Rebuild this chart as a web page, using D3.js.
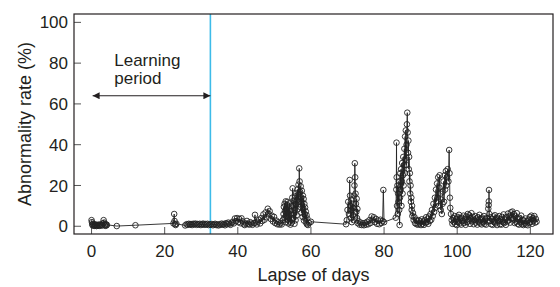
<!DOCTYPE html>
<html>
<head>
<meta charset="utf-8">
<script src="https://cdn.jsdelivr.net/npm/d3@7"></script>
<style>
  body { margin: 0; background: #fff; }
  text { font-family: "Liberation Sans", Arial, sans-serif; fill: #231f20; }
</style>
</head>
<body>
<div id="chart"></div>
<script>
// axis ticks
var xTicks = [0, 20, 40, 60, 80, 100, 120];
var yTicks = [0, 20, 40, 60, 80, 100];

// end of learning period (days)
var learningEnd = 32.5;

// [day, abnormality rate %]
var learningPts = [
  [0.0,3.0],[0.1,2.0],[0.2,1.0],[0.3,0.4],[0.45,1.2],[0.6,0.5],[0.75,0.2],[0.9,0.9],[1.05,0.3],[1.2,0.7],
  [1.35,0.1],[1.5,0.6],[1.7,0.3],[1.9,0.8],[2.1,0.2],[2.3,0.5],[2.5,0.9],[2.7,0.3],[2.9,0.6],[3.1,1.4],
  [3.3,3.0],[3.45,1.8],[3.6,0.8],[3.75,0.2],[3.9,1.0],[4.05,0.4],[4.2,0.7],[6.9,0.1],[12.0,0.5],[22.4,1.4],
  [22.6,6.0],[22.7,2.6],[22.85,1.0],[23.0,0.6],[23.2,1.2],[25.6,0.4],[26.0,1.0],[26.3,0.7],[26.6,1.2],[26.9,0.8],
  [27.2,1.1],[27.5,0.6],[27.8,1.2],[28.1,0.9],[28.4,1.3],[28.7,0.7],[29.0,1.1],[29.3,0.8],[29.6,1.2],[29.9,0.6],
  [30.2,1.0],[30.5,1.3],[30.8,0.7],[31.1,1.1],[31.4,0.8],[31.7,1.2],[32.0,0.6],[32.3,1.0]
];

var calmPts = [
  [32.6,0.8],[32.9,1.1],[33.2,0.5],[33.5,0.9],[33.8,1.2],[34.1,0.6],[34.4,0.9],[34.7,0.4],[35.0,1.0],[35.3,0.7],
  [35.6,1.3],[35.9,0.8],[36.2,1.1],[36.5,0.5],[36.8,1.5],[37.1,1.0],[37.4,1.8],[37.7,1.2],[38.0,0.7],[38.3,1.6],
  [38.6,2.2],[38.9,1.4],[39.2,3.8],[39.5,2.5],[39.8,4.0],[40.1,2.0],[40.4,3.6],[40.7,1.5],[41.0,3.9],[41.3,2.4],
  [41.6,1.0],[41.9,0.6],[42.2,1.4],[42.5,2.6],[42.8,1.2],[43.1,0.8],[43.4,2.0],[43.7,1.3],[44.0,0.7],[44.4,1.5],
  [44.7,5.6],[44.9,1.8],[45.2,0.9],[45.5,2.2],[45.8,3.2],[46.1,1.4],[46.4,4.0],[46.7,2.6],[47.0,5.8],[47.3,3.2],
  [47.6,6.8],[47.9,4.4],[48.2,8.6],[48.4,6.2],[48.7,7.4],[49.0,3.6],[49.3,5.2],[49.6,2.4],[49.9,4.6],[50.2,1.6],
  [50.5,2.8],[50.8,1.0],[51.1,2.0],[51.4,0.8],[51.7,1.6],[52.0,0.9],[52.3,3.0]
];

var burstA = [
  [52.5,6.0],[52.6,9.5],[52.7,4.2],[52.8,11.0],[52.9,7.5],[53.0,2.0],[53.1,12.2],[53.2,8.6],[53.3,5.0],[53.4,10.4],
  [53.5,3.2],[53.6,12.0],[53.7,6.8],[53.8,1.4],[53.9,9.0],[54.0,4.4],[54.1,11.2],[54.2,2.4],[54.3,7.6],[54.4,0.8],
  [54.5,5.6],[54.6,1.6],[54.7,3.4],[54.8,9.8],[54.9,14.0],[55.0,18.6],[55.1,10.2],[55.2,4.0],[55.3,12.6],[55.4,6.4],
  [55.5,1.2],[55.6,8.0],[55.7,14.6],[55.8,3.0],[55.9,10.8],[56.0,16.2],[56.1,5.4],[56.2,12.8],[56.3,18.0],[56.4,8.4],
  [56.5,15.6],[56.6,20.4],[56.7,12.0],[56.8,28.4],[56.9,22.0],[57.0,17.0],[57.1,9.4],[57.2,19.6],[57.3,14.2],[57.4,6.6],
  [57.5,17.4],[57.6,11.6],[57.7,4.6],[57.8,15.0],[57.9,8.8],[58.0,13.4],[58.1,2.8],[58.2,11.0],[58.3,6.0],[58.4,9.2],
  [58.5,3.6],[58.6,7.2],[58.7,1.8],[58.8,5.4],[58.9,1.0],[59.0,3.8],[59.2,0.6],[59.5,1.6],[60.0,2.2]
];

var burstB = [
  [69.6,1.0],[69.8,3.0],[70.0,8.0],[70.2,12.0],[70.4,6.0],[70.6,22.7],[70.7,15.0],[70.8,10.0],[70.9,4.0],[71.0,13.0],
  [71.1,8.0],[71.2,2.0],[71.4,11.0],[71.5,5.5],[71.6,9.0],[71.7,3.0],[71.8,15.0],[71.9,20.0],[72.0,30.9],[72.1,24.0],
  [72.2,16.0],[72.3,11.0],[72.4,7.0],[72.5,13.5],[72.6,4.0],[72.7,8.5],[72.8,1.5],[73.0,2.5],[73.3,0.8],[73.6,1.8],
  [73.9,0.6],[74.2,1.4],[74.5,0.5],[74.8,1.6],[75.1,0.8],[75.4,2.2],[75.7,1.0],[76.0,3.0],[76.3,1.6],[76.6,4.8],
  [76.9,3.2],[77.2,4.4],[77.5,2.0],[77.8,3.6],[78.1,1.2],[78.4,2.8],[78.7,1.0],[79.0,3.2],[79.3,1.6],[79.6,2.6],
  [79.8,17.8],[80.0,2.0]
];

var burstC = [
  [83.2,4.2],[83.35,18.0],[83.4,41.0],[83.45,24.0],[83.55,10.0],[83.65,20.0],[83.75,6.0],[83.85,16.0],[83.95,12.0],[84.05,22.0],
  [84.15,8.0],[84.25,0.6],[84.35,14.0],[84.45,26.0],[84.55,18.0],[84.65,28.0],[84.75,10.0],[84.85,22.0],[84.95,31.0],[85.05,16.0],
  [85.15,25.0],[85.25,34.0],[85.35,20.0],[85.45,30.0],[85.55,38.0],[85.65,26.0],[85.75,44.0],[85.85,33.0],[85.95,47.0],[86.05,30.0],
  [86.15,40.0],[86.25,50.0],[86.35,55.7],[86.45,46.0],[86.55,36.0],[86.65,42.0],[86.75,28.0],[86.85,34.0],[86.95,22.0],[87.05,26.0],
  [87.15,16.0],[87.25,20.0],[87.35,12.0],[87.45,14.0],[87.55,8.0],[87.65,10.0],[87.75,5.0],[87.9,6.5],[88.1,3.0],[88.3,4.5],
  [88.5,1.5],[88.7,3.2],[88.9,1.0],[89.1,2.6],[89.3,0.8],[89.5,3.0],[89.7,1.4],[89.9,2.4],[90.1,0.6],[90.3,3.4],
  [90.5,1.2],[90.7,2.2],[90.9,0.7],[91.1,3.0],[91.3,1.6],[91.5,4.4],[91.7,2.0],[91.9,3.6],[92.1,1.2],[92.3,4.8],
  [92.5,2.6],[92.7,6.0],[92.9,3.2],[93.1,8.0],[93.3,5.0],[93.5,11.0],[93.7,7.0],[93.9,14.0],[94.0,9.0],[94.2,18.0],
  [94.3,12.0],[94.5,21.0],[94.6,14.0],[94.8,24.0],[94.9,10.0],[95.1,19.0],[95.2,25.0],[95.4,16.0],[95.5,8.0],[95.7,13.0],
  [95.8,6.0],[96.0,11.0],[96.1,17.0],[96.3,22.0],[96.4,12.0],[96.6,25.0],[96.7,18.0],[96.9,27.0],[97.0,20.0],[97.2,24.0],
  [97.4,28.0],[97.6,22.0],[97.8,37.4],[97.9,26.0],[98.0,14.0],[98.1,9.0],[98.3,6.0],[98.5,3.0]
];

var tailPts = [
  [98.7,1.2],[98.9,4.0],[99.1,2.0],[99.3,5.0],[99.5,1.0],[99.7,3.6],[99.9,0.6],[100.1,4.6],[100.3,2.2],[100.5,5.6],
  [100.7,1.4],[100.9,3.8],[101.1,0.8],[101.3,4.2],[101.5,2.6],[101.7,5.2],[101.9,1.6],[102.1,3.4],[102.3,0.7],[102.5,4.8],
  [102.7,2.0],[102.9,6.0],[103.1,3.0],[103.3,5.4],[103.5,1.2],[103.7,4.0],[103.9,6.4],[104.1,2.4],[104.3,4.6],[104.5,1.0],
  [104.7,3.2],[104.9,5.0],[105.1,1.8],[105.3,3.8],[105.5,0.8],[105.7,4.4],[105.9,2.2],[106.1,5.6],[106.3,1.4],[106.5,3.6],
  [106.7,0.9],[106.9,4.2],[107.1,2.0],[107.3,5.0],[107.5,1.2],[107.7,3.4],[107.9,0.8],[108.1,4.0],[108.3,2.4],[108.5,8.6],
  [108.6,10.4],[108.65,12.2],[108.7,17.8],[108.8,6.0],[108.9,2.6],[109.1,4.4],[109.3,1.0],[109.5,3.6],[109.7,0.7],[109.9,4.8],
  [110.1,2.2],[110.3,5.4],[110.5,1.4],[110.7,3.8],[110.9,0.6],[111.1,4.2],[111.3,2.6],[111.5,5.0],[111.7,1.0],[111.9,3.4],
  [112.1,0.8],[112.3,4.6],[112.5,2.0],[112.7,5.8],[112.9,1.6],[113.1,3.2],[113.3,0.7],[113.5,4.4],[113.7,2.4],[113.9,6.2],
  [114.1,3.0],[114.3,5.0],[114.5,1.8],[114.7,6.8],[114.9,4.2],[115.1,7.2],[115.3,3.4],[115.5,6.0],[115.7,1.6],[115.9,4.8],
  [116.1,2.2],[116.3,6.4],[116.5,1.2],[116.7,3.6],[116.9,0.8],[117.1,4.0],[117.3,2.0],[117.5,5.2],[117.7,1.0],[117.9,3.0],
  [118.1,0.6],[118.3,2.8],[118.5,1.4],[118.7,3.8],[118.9,0.9],[119.1,2.4],[119.3,0.5],[119.5,3.2],[119.7,1.6],[119.9,4.6],
  [120.1,2.0],[120.3,5.2],[120.5,1.2],[120.7,4.0],[120.9,2.6],[121.1,5.0],[121.3,1.8],[121.5,3.6],[121.7,2.2]
];

var data = learningPts.concat(calmPts, burstA, burstB, burstC, tailPts);

var W = 560, H = 287;
var frame = {left: 74, right: 553, top: 14, bottom: 234};

var x = d3.scaleLinear().domain([-4.8, 126.2]).range([frame.left, frame.right]);
var y = d3.scaleLinear().domain([-3.8, 104.1]).range([frame.bottom, frame.top]);

var svg = d3.select('#chart').append('svg')
    .attr('width', W)
    .attr('height', H);

// arrow marker
var defs = svg.append('defs');
defs.append('marker')
    .attr('id', 'head')
    .attr('viewBox', '0 0 10 10')
    .attr('refX', 10).attr('refY', 5)
    .attr('markerWidth', 11).attr('markerHeight', 7)
    .attr('markerUnits', 'userSpaceOnUse')
    .attr('orient', 'auto-start-reverse')
  .append('path')
    .attr('d', 'M0,0 L10,5 L0,10 Z')
    .attr('fill', '#231f20');

// ticks (inward)
svg.append('g').selectAll('line')
    .data(yTicks).enter().append('line')
    .attr('x1', frame.left).attr('x2', frame.left + 7)
    .attr('y1', function(d) { return y(d); })
    .attr('y2', function(d) { return y(d); })
    .attr('stroke', '#555').attr('stroke-width', 1);

svg.append('g').selectAll('line')
    .data(xTicks).enter().append('line')
    .attr('x1', function(d) { return x(d); })
    .attr('x2', function(d) { return x(d); })
    .attr('y1', frame.bottom).attr('y2', frame.bottom - 7)
    .attr('stroke', '#555').attr('stroke-width', 1);

// tick labels
svg.append('g').selectAll('text')
    .data(yTicks).enter().append('text')
    .attr('x', 68)
    .attr('y', function(d) { return y(d); })
    .attr('dy', '0.36em')
    .attr('text-anchor', 'end')
    .attr('font-size', '17px')
    .text(function(d) { return d; });

svg.append('g').selectAll('text')
    .data(xTicks).enter().append('text')
    .attr('x', function(d) { return x(d); })
    .attr('y', 257)
    .attr('text-anchor', 'middle')
    .attr('font-size', '17px')
    .text(function(d) { return d; });

// learning period boundary
svg.append('line')
    .attr('x1', x(learningEnd)).attr('x2', x(learningEnd))
    .attr('y1', frame.top).attr('y2', frame.bottom)
    .attr('stroke', '#3dbbe9').attr('stroke-width', 1.6);

// the series
svg.append('path')
    .datum(data)
    .attr('fill', 'none')
    .attr('stroke', '#222')
    .attr('stroke-width', 0.9)
    .attr('d', d3.line()
        .x(function(d) { return x(d[0]); })
        .y(function(d) { return y(d[1]); }));

svg.append('g').selectAll('circle')
    .data(data).enter().append('circle')
    .attr('cx', function(d) { return x(d[0]); })
    .attr('cy', function(d) { return y(d[1]); })
    .attr('r', 2.8)
    .attr('fill', 'none')
    .attr('stroke', '#222')
    .attr('stroke-width', 0.9);

// frame
svg.append('rect')
    .attr('x', frame.left).attr('y', frame.top)
    .attr('width', frame.right - frame.left)
    .attr('height', frame.bottom - frame.top)
    .attr('fill', 'none')
    .attr('stroke', '#231f20')
    .attr('stroke-width', 1.2);

// annotation
svg.append('line')
    .attr('x1', x(0.3)).attr('x2', x(learningEnd))
    .attr('y1', y(64)).attr('y2', y(64))
    .attr('stroke', '#231f20').attr('stroke-width', 1)
    .attr('marker-start', 'url(#head)')
    .attr('marker-end', 'url(#head)');

var note = svg.append('text')
    .attr('x', x(6.2))
    .attr('font-size', '17px');
note.append('tspan').attr('x', x(6.2)).attr('y', 66).text('Learning');
note.append('tspan').attr('x', x(6.2)).attr('y', 84).text('period');

// axis titles
svg.append('text')
    .attr('x', (frame.left + frame.right) / 2)
    .attr('y', 281)
    .attr('text-anchor', 'middle')
    .attr('font-size', '18px')
    .text('Lapse of days');

svg.append('text')
    .attr('transform', 'translate(31,' + ((frame.top + frame.bottom) / 2) + ') rotate(-90)')
    .attr('text-anchor', 'middle')
    .attr('font-size', '18px')
    .text('Abnormality rate (%)');
</script>
</body>
</html>
